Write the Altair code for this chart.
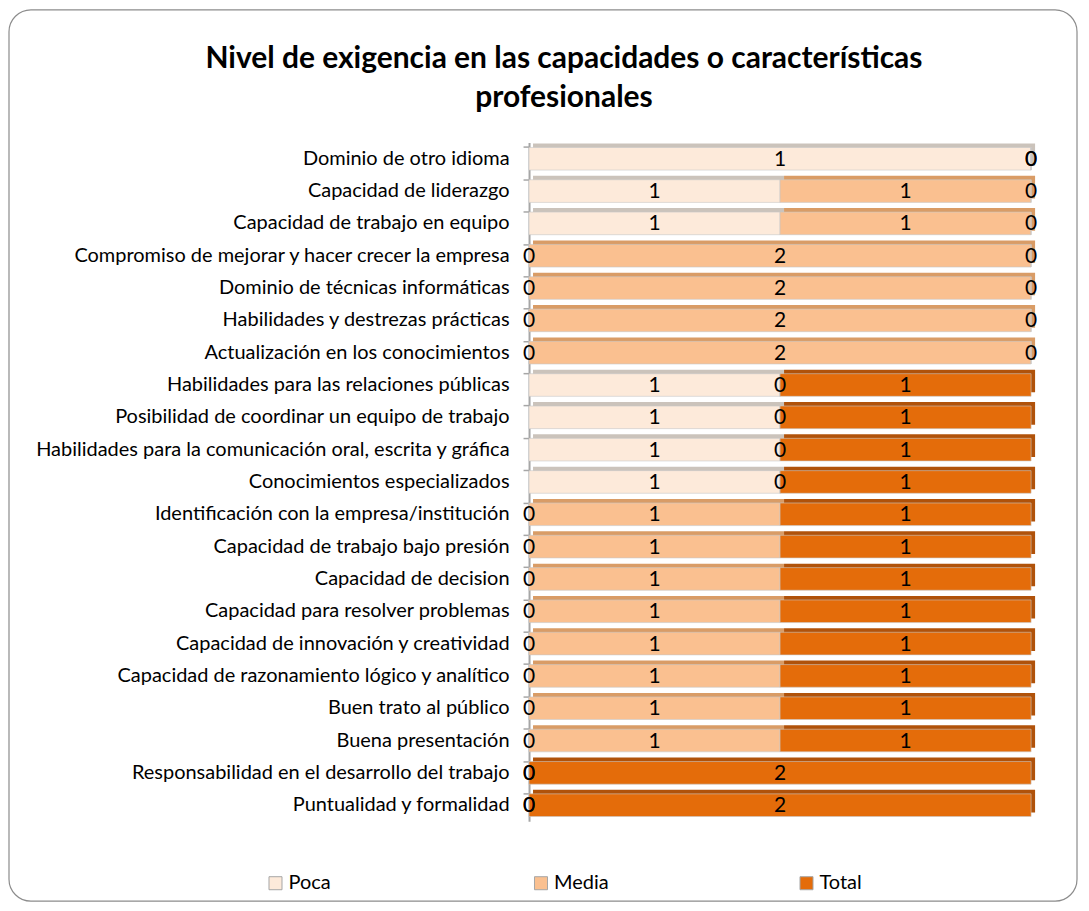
import altair as alt
import pandas as pd

categories = [
    "Dominio de otro idioma",
    "Capacidad de liderazgo",
    "Capacidad de trabajo en equipo",
    "Compromiso de mejorar y hacer crecer la empresa",
    "Dominio de técnicas informáticas",
    "Habilidades y destrezas prácticas",
    "Actualización en los conocimientos",
    "Habilidades para las relaciones públicas",
    "Posibilidad de coordinar un equipo de trabajo",
    "Habilidades para la comunicación oral, escrita y gráfica",
    "Conocimientos especializados",
    "Identificación con la empresa/institución",
    "Capacidad de trabajo bajo presión",
    "Capacidad de decision",
    "Capacidad para resolver problemas",
    "Capacidad de innovación y creatividad",
    "Capacidad de razonamiento lógico y analítico",
    "Buen trato al público",
    "Buena presentación",
    "Responsabilidad en el desarrollo del trabajo",
    "Puntualidad y formalidad",
]
poca = [1, 1, 1, 0, 0, 0, 0, 1, 1, 1, 1, 0, 0, 0, 0, 0, 0, 0, 0, 0, 0]
media = [0, 1, 1, 2, 2, 2, 2, 0, 0, 0, 0, 1, 1, 1, 1, 1, 1, 1, 1, 0, 0]
total = [0, 0, 0, 0, 0, 0, 0, 1, 1, 1, 1, 1, 1, 1, 1, 1, 1, 1, 1, 2, 2]

series = ["Poca", "Media", "Total"]
title_lines = ["Nivel de exigencia en las capacidades o características", "profesionales"]

colors = ["#FDEADA", "#FAC090", "#E46C0A"]
depth_colors = ["#cbc3bb", "#d99c66", "#b0520a"]

rows = []
for i, c in enumerate(categories):
    for k, (s, vals) in enumerate(zip(series, [poca, media, total])):
        rows.append({"categoria": c, "serie": s, "valor": vals[i], "orden": k,
                     "dcol": depth_colors[k]})
df = pd.DataFrame(rows)

FONT = "Lato"

base = alt.Chart(df).transform_stack(
    stack="valor", as_=["x0", "x1"], groupby=["categoria"],
    sort=[alt.SortField("orden")], offset="normalize"
).transform_calculate(mid="(datum.x0 + datum.x1) / 2")

yenc = alt.Y("categoria:N", sort=categories, title=None,
             scale=alt.Scale(paddingInner=0.3, paddingOuter=0.15),
             axis=alt.Axis(labelFont=FONT, labelFontSize=20, labelColor="#000000",
                           labelLimit=600, labelPadding=14, tickSize=6,
                           bandPosition=0, domainColor="#a6a6a6", domainWidth=2,
                           tickColor="#a6a6a6", tickWidth=1.5))
xscale = alt.Scale(domain=[0, 1], nice=False, zero=True)

depth = base.mark_bar(xOffset=4, x2Offset=4, yOffset=-4, y2Offset=-4).encode(
    x=alt.X("x0:Q", scale=xscale, axis=None),
    x2="x1:Q",
    y=yenc,
    color=alt.Color("dcol:N", scale=None),
)

front = base.mark_bar(stroke="#c8c8c8", strokeWidth=0.6).encode(
    x=alt.X("x0:Q", scale=xscale, axis=None),
    x2="x1:Q",
    y=yenc,
    color=alt.Color("serie:N", sort=series,
                    scale=alt.Scale(domain=series, range=colors),
                    legend=alt.Legend(title=None, orient="none", legendX=-264,
                                      legendY=732, direction="horizontal",
                                      columns=3, columnPadding=188,
                                      gridAlign="all",
                                      symbolType="square", symbolSize=170,
                                      symbolStrokeColor="#a6a6a6",
                                      symbolStrokeWidth=1,
                                      labelFont=FONT, labelFontSize=20,
                                      labelColor="#000000", labelOffset=3)),
)

labels = base.mark_text(font=FONT, fontSize=21, color="#000000",
                        align="center", baseline="middle", dy=1).encode(
    x=alt.X("mid:Q", scale=xscale, axis=None),
    y=yenc,
    text="valor:Q",
)

frame = alt.Chart(pd.DataFrame({"a": [0]})).mark_rect(
    fill=None, stroke="#8c8c8c", strokeWidth=1.2, cornerRadius=22
).encode(x=alt.value(-521), x2=alt.value(549), y=alt.value(-133), y2=alt.value(760))

title_df = pd.DataFrame({"t": title_lines, "yy": [-84, -45]})
title = alt.Chart(title_df).mark_text(
    font=FONT, fontSize=30, fontWeight="bold", color="#000000",
    align="center", baseline="middle"
).encode(text="t:N", x=alt.value(35), y=alt.Y("yy:Q", scale=None, axis=None))

chart = alt.layer(frame, depth, front, labels, title).properties(
    width=503, height=680,
    padding={"left": 522, "top": 134, "right": 50, "bottom": 100},
    autosize=alt.AutoSizeParams(type="none"),
    background="white",
).configure_view(stroke=None)

chart.save("out.html", embed_options={"renderer": "svg", "actions": False})
